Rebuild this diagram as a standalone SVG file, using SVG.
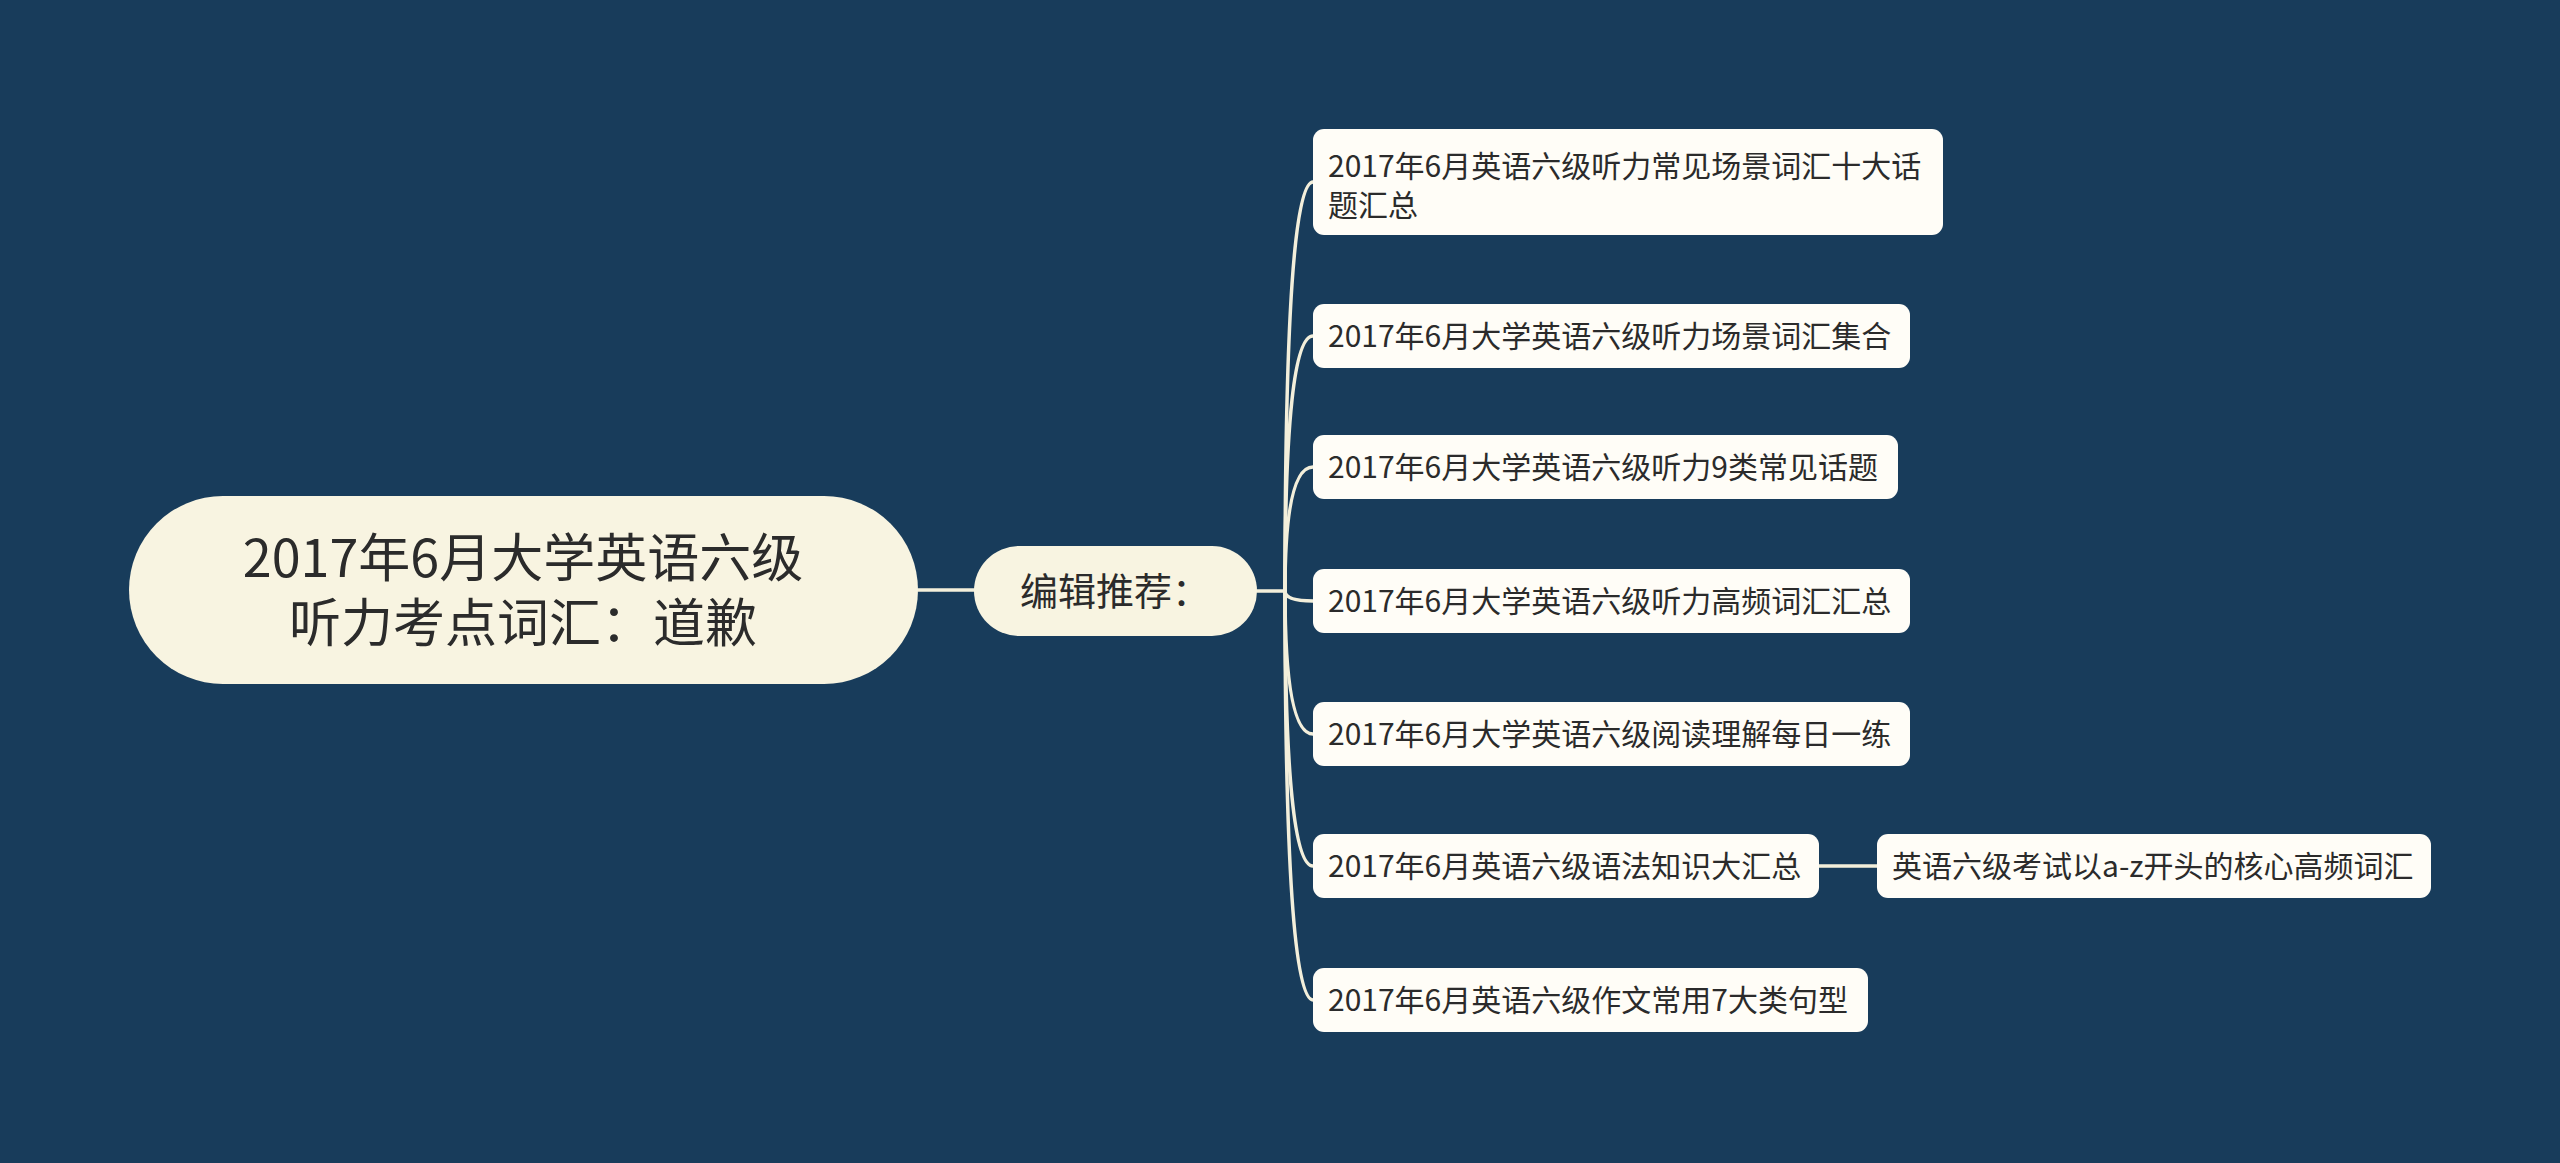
<svg xmlns="http://www.w3.org/2000/svg" width="2560" height="1163" viewBox="0 0 2560 1163">
<style>
.bg{fill:#183c5b}
.link{fill:none;stroke:#f3efdb;stroke-width:3.5;stroke-linecap:round}
.root{fill:#f8f4e1}
.sub{fill:#f8f4e1}
.leaf{fill:#fffdf7}
.t{font-family:"Noto Sans CJK SC","Noto Sans",sans-serif;fill:#2b2b2b}
.t-root{font-size:52px;text-anchor:middle}
.t-sub{font-size:38px;text-anchor:middle}
.t-leaf{font-size:30px}
</style>
<rect class="bg" x="0" y="0" width="2560" height="1163"/>
<g id="connectors">
<path class="link" d="M918 590 L975 590"/>
<path class="link" d="M1257 591 L1285 591"/>
<path class="link" d="M1285 591 Q1285 182 1313 182"/>
<path class="link" d="M1285 591 Q1285 336 1313 336"/>
<path class="link" d="M1285 591 Q1285 467 1313 467"/>
<path class="link" d="M1285 591 Q1285 601 1313 601"/>
<path class="link" d="M1285 591 Q1285 734 1313 734"/>
<path class="link" d="M1285 591 Q1285 866 1313 866"/>
<path class="link" d="M1285 591 Q1285 1000 1313 1000"/>
<path class="link" d="M1818 866 L1877 866"/>
</g>
<g id="root">
<rect class="root" x="129" y="496" width="789" height="188" rx="94"/>
<text class="t t-root" x="523" y="577">2017年6月大学英语六级</text>
<text class="t t-root" x="523" y="642">听力考点词汇：道歉</text>
</g>
<g id="sub">
<rect class="sub" x="974" y="546" width="283" height="90" rx="45"/>
<text class="t t-sub" x="1115" y="605">编辑推荐：</text>
</g>
<g id="n1">
<rect class="leaf" x="1313" y="129" width="630" height="106" rx="11"/>
<text class="t t-leaf" x="1328" y="177">2017年6月英语六级听力常见场景词汇十大话</text>
<text class="t t-leaf" x="1328" y="216">题汇总</text>
</g>
<g id="n2">
<rect class="leaf" x="1313" y="304" width="597" height="64" rx="11"/>
<text class="t t-leaf" x="1328" y="347">2017年6月大学英语六级听力场景词汇集合</text>
</g>
<g id="n3">
<rect class="leaf" x="1313" y="435" width="585" height="64" rx="11"/>
<text class="t t-leaf" x="1328" y="478">2017年6月大学英语六级听力9类常见话题</text>
</g>
<g id="n4">
<rect class="leaf" x="1313" y="569" width="597" height="64" rx="11"/>
<text class="t t-leaf" x="1328" y="612">2017年6月大学英语六级听力高频词汇汇总</text>
</g>
<g id="n5">
<rect class="leaf" x="1313" y="702" width="597" height="64" rx="11"/>
<text class="t t-leaf" x="1328" y="745">2017年6月大学英语六级阅读理解每日一练</text>
</g>
<g id="n6">
<rect class="leaf" x="1313" y="834" width="506" height="64" rx="11"/>
<text class="t t-leaf" x="1328" y="877">2017年6月英语六级语法知识大汇总</text>
</g>
<g id="n7">
<rect class="leaf" x="1313" y="968" width="555" height="64" rx="11"/>
<text class="t t-leaf" x="1328" y="1011">2017年6月英语六级作文常用7大类句型</text>
</g>
<g id="n8">
<rect class="leaf" x="1877" y="834" width="554" height="64" rx="11"/>
<text class="t t-leaf" x="1892" y="877">英语六级考试以a-z开头的核心高频词汇</text>
</g>
</svg>
